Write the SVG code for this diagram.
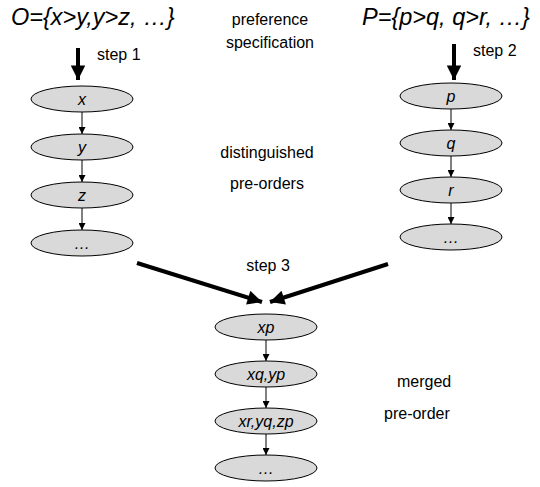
<svg xmlns="http://www.w3.org/2000/svg" width="540" height="487" viewBox="0 0 540 487">
<style>
.n{fill:#d9d9d9;stroke:#000;stroke-width:1}
.lb{font-family:"Liberation Sans",Arial,sans-serif;font-size:16px;font-style:italic;text-anchor:middle;fill:#000}
.t{font-family:"Liberation Sans",Arial,sans-serif;font-size:16px;fill:#000}
.big{font-family:"Liberation Sans",Arial,sans-serif;font-size:23.5px;font-style:italic;fill:#000}
.thin{stroke:#000;stroke-width:1;fill:none;marker-end:url(#sa)}
.thick{stroke:#000;stroke-width:4;fill:none;marker-end:url(#ba)}
</style>
<defs>
<marker id="sa" viewBox="0 0 10 10" refX="10" refY="5" markerWidth="7" markerHeight="7" markerUnits="userSpaceOnUse" orient="auto"><path d="M0,0L10,5L0,10z" fill="#000"/></marker>
<marker id="ba" viewBox="0 0 10 10" refX="10" refY="5" markerWidth="4" markerHeight="3.6" orient="auto"><path d="M0,0L10,5L0,10z" fill="#000"/></marker>
</defs>
<text class="big" x="11" y="25">O={x&gt;y,y&gt;z, …}</text>
<text class="big" x="362" y="25">P={p&gt;q, q&gt;r, …}</text>
<text class="t" x="270" y="25" text-anchor="middle">preference</text>
<text class="t" x="270" y="48" text-anchor="middle">specification</text>
<text class="t" x="97" y="60">step 1</text>
<text class="t" x="473" y="56">step 2</text>
<text class="t" x="267" y="158" text-anchor="middle">distinguished</text>
<text class="t" x="267" y="189" text-anchor="middle">pre-orders</text>
<text class="t" x="268" y="271" text-anchor="middle">step 3</text>
<text class="t" x="397" y="387">merged</text>
<text class="t" x="384" y="419">pre-order</text>
<g id="connectors">
<path class="thick" d="M78,48V80"/>
<path class="thick" d="M454,44V80"/>
<path class="thick" d="M137,263L262,302"/>
<path class="thick" d="M388,264L270,302"/>
<path class="thin" d="M82,112V134"/>
<path class="thin" d="M82,160V182"/>
<path class="thin" d="M82,208V230"/>
<path class="thin" d="M451,109V130"/>
<path class="thin" d="M451,156V177"/>
<path class="thin" d="M451,203V224"/>
<path class="thin" d="M266,340V361"/>
<path class="thin" d="M266,387V408"/>
<path class="thin" d="M266,434V455"/>
</g>
<g id="nx"><ellipse class="n" cx="82" cy="99" rx="51" ry="13"/><text class="lb" x="82" y="105">x</text></g>
<g id="ny"><ellipse class="n" cx="82" cy="147" rx="51" ry="13"/><text class="lb" x="82" y="153">y</text></g>
<g id="nz"><ellipse class="n" cx="82" cy="195" rx="51" ry="13"/><text class="lb" x="82" y="201">z</text></g>
<g id="nl"><ellipse class="n" cx="82" cy="243" rx="51" ry="13"/><text class="lb" x="82" y="249" font-style="normal">…</text></g>
<g id="np"><ellipse class="n" cx="451" cy="96" rx="51" ry="13"/><text class="lb" x="451" y="102">p</text></g>
<g id="nq"><ellipse class="n" cx="451" cy="143" rx="51" ry="13"/><text class="lb" x="451" y="149">q</text></g>
<g id="nr"><ellipse class="n" cx="451" cy="190" rx="51" ry="13"/><text class="lb" x="451" y="196">r</text></g>
<g id="nrl"><ellipse class="n" cx="451" cy="237" rx="51" ry="13"/><text class="lb" x="451" y="243" font-style="normal">…</text></g>
<g id="nxp"><ellipse class="n" cx="266" cy="327" rx="51" ry="13"/><text class="lb" x="266" y="333">xp</text></g>
<g id="nxq"><ellipse class="n" cx="266" cy="374" rx="51" ry="13"/><text class="lb" x="266" y="380">xq,yp</text></g>
<g id="nxr"><ellipse class="n" cx="266" cy="421" rx="51" ry="13"/><text class="lb" x="266" y="427">xr,yq,zp</text></g>
<g id="nml"><ellipse class="n" cx="266" cy="468" rx="51" ry="13"/><text class="lb" x="266" y="474" font-style="normal">…</text></g>
</svg>
